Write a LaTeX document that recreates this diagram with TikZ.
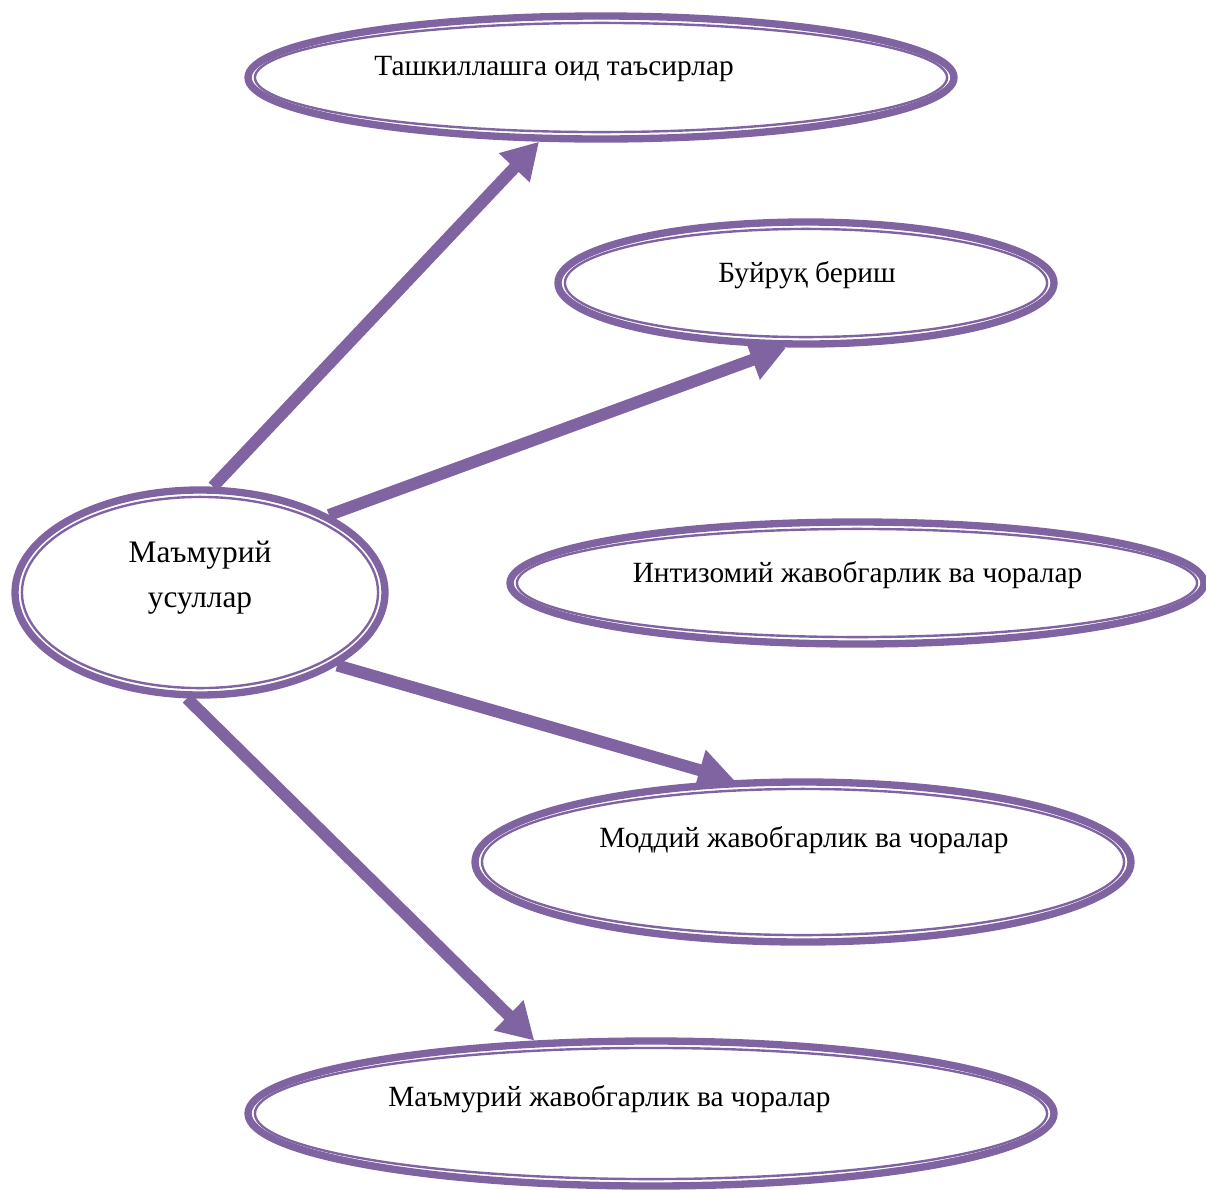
\documentclass[tikz,border=0pt]{standalone}
\usepackage{fontspec}
\setmainfont{Liberation Serif}
\usetikzlibrary{shapes.geometric,arrows.meta,calc}
\definecolor{ringpurple}{RGB}{128,100,162}
\tikzset{
	ring/.style 2 args={ellipse, draw=ringpurple, line width=5.5pt, fill=white, inner sep=0pt, minimum width=#1*0.75pt, minimum height=#2*0.75pt,
		path picture={\draw[ringpurple, line width=1.8pt] let \p1=(path picture bounding box.north east), \p2=(path picture bounding box.center) in (path picture bounding box.center) ellipse ({\x1-\x2-5.2pt} and {abs(\y1-\y2)-5.2pt});}},
	every label/.style={font=\fontsize{22}{34}\selectfont, inner sep=0pt, align=center},
	push/.style={ringpurple, line width=9pt, -{Triangle[length=27pt,width=30pt]}}
}
\begin{document}
\begin{tikzpicture}[x=0.75pt,y=0.75pt,yscale=-1,xscale=1]
	\useasboundingbox (0,0) rectangle (1206,1189);
	\node [ring={370}{205}, label={[font=\fontsize{23.5}{34}\selectfont, yshift=15*0.75pt]center:Маъмурий\\усуллар}] (usul) at (200,592.5) {};
	\node [ring={706}{123}, label={[anchor=base, xshift=-47*0.75pt, yshift=8.5*0.75pt]center:Ташкиллашга оид таъсирлар}] (tashkil) at (601,77.5) {};
	\node [ring={496}{122}, label={[anchor=base, xshift=1*0.75pt, yshift=7.5*0.75pt]center:Буйруқ бериш}] (buyruq) at (806,283) {};
	\node [ring={694}{122}, label={[anchor=base, xshift=0.5*0.75pt, yshift=8*0.75pt]center:Интизомий жавобгарлик ва чоралар}] (intizom) at (857,583) {};
	\node [ring={656}{160}, label={[anchor=base, xshift=1*0.75pt, yshift=22*0.75pt]center:Моддий жавобгарлик ва чоралар}] (moddiy) at (803,862) {};
	\node [ring={806}{145}, label={[anchor=base, xshift=-41.5*0.75pt, yshift=14.5*0.75pt]center:Маъмурий жавобгарлик ва чоралар}] (mamuriy) at (651,1113.5) {};
	\draw [push] (usul.83) -- (tashkil.226);
	\draw [push] (usul.31) -- (buyruq.253);
	\draw [push] (usul.-28) -- (moddiy.130);
	\draw [push] (usul.263) -- (mamuriy.148);
\end{tikzpicture}
\end{document}
